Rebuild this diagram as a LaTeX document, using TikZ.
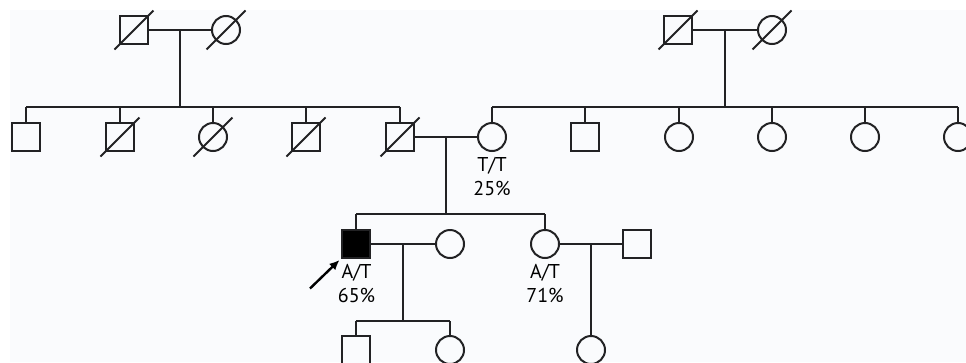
\documentclass[tikz,border=0pt]{standalone}
\usepackage{fontspec}
\setmainfont{PT Sans}
\usetikzlibrary{calc,arrows.meta}
\definecolor{ink}{RGB}{34,34,36}
\definecolor{paper}{RGB}{250,251,253}
\tikzset{
  x=1pt, y=-1pt,
  rel/.style={draw=ink, line width=2pt},
  male/.style={rectangle, draw=ink, line width=2pt, minimum size=28pt, inner sep=0pt, fill=paper},
  female/.style={circle, draw=ink, line width=2pt, minimum size=28pt, inner sep=0pt, fill=paper},
  affected/.style={fill=black},
  geno/.style={font=\fontsize{20}{22}\selectfont, text=black, anchor=base, inner sep=0pt},
}
% diagonal stroke marking a deceased individual
\newcommand{\deceased}[1]{\draw[rel] ($(#1)+(-19.5,19.5)$) -- ($(#1)+(19.5,-19.5)$);}
\begin{document}
\begin{tikzpicture}
\useasboundingbox (0,0) rectangle (966,362);
\clip (0,0) rectangle (966,362);
\fill[white] (0,0) rectangle (966,362);
\fill[paper] (10,10) rectangle (966,362);

% generation I
\node[male]   (gp1) at (134,30) {};
\node[female] (gm1) at (226,30) {};
\node[male]   (gp2) at (678,30) {};
\node[female] (gm2) at (772,30) {};

% generation II
\node[male]   (a1) at (26,137) {};
\node[male]   (a2) at (120,137) {};
\node[female] (a3) at (213,137) {};
\node[male]   (a4) at (306,137) {};
\node[male]   (a5) at (400,137) {};
\node[female] (b1) at (492,137) {};
\node[male]   (b2) at (585,137) {};
\node[female] (b3) at (679,137) {};
\node[female] (b4) at (772,137) {};
\node[female] (b5) at (865,137) {};
\node[female] (b6) at (958,137) {};

% generation III
\node[male, affected] (p)  at (356,244) {};
\node[female]         (w1) at (450,244) {};
\node[female]         (s)  at (545,244) {};
\node[male]           (h)  at (637,244) {};

% generation IV
\node[male]   (c1) at (356,350) {};
\node[female] (c2) at (450,350) {};
\node[female] (c3) at (591,350) {};

% sibship line levels
\coordinate (sibA) at (0,107);
\coordinate (sibB) at (0,107);
\coordinate (sibC) at (0,214);
\coordinate (sibD) at (0,321);

% left family
\draw[rel] (gp1) -- (gm1);
\coordinate (m1) at ($(gp1.east)!0.5!(gm1.west)$);
\draw[rel] (m1) -- (m1 |- sibA);
\draw[rel] (a1.north |- sibA) -- (a5.north |- sibA);
\foreach \k in {a1,a2,a3,a4,a5} {\draw[rel] (\k.north) -- (\k.north |- sibA);}

% right family
\draw[rel] (gp2) -- (gm2);
\coordinate (m2) at ($(gp2.east)!0.5!(gm2.west)$);
\draw[rel] (m2) -- (m2 |- sibB);
\draw[rel] (b1.north |- sibB) -- (b6.north |- sibB);
\foreach \k in {b1,b2,b3,b4,b5,b6} {\draw[rel] (\k.north) -- (\k.north |- sibB);}

% parents of the proband
\draw[rel] (a5) -- (b1);
\coordinate (m3) at ($(a5.east)!0.5!(b1.west)$);
\draw[rel] (m3) -- (m3 |- sibC);
\draw[rel] (p.north |- sibC) -- (s.north |- sibC);
\foreach \k in {p,s} {\draw[rel] (\k.north) -- (\k.north |- sibC);}

% proband and partner
\draw[rel] (p) -- (w1);
\coordinate (m4) at ($(p.east)!0.5!(w1.west)$);
\draw[rel] (m4) -- (m4 |- sibD);
\draw[rel] (c1.north |- sibD) -- (c2.north |- sibD);
\foreach \k in {c1,c2} {\draw[rel] (\k.north) -- (\k.north |- sibD);}

% sister and partner
\draw[rel] (s) -- (h);
\coordinate (m5) at ($(s.east)!0.5!(h.west)$);
\draw[rel] (m5) -- (c3.north);

% deceased markers
\foreach \k in {gp1,gm1,gp2,gm2,a2,a3,a4,a5} {\deceased{\k}}

% genotype labels
\node[geno] (tb1a) at (492,171.5) {T/T};
\node[geno] (tb1b) at (492,195.5) {25\%};
\node[geno] (tpa)  at (356.5,278.5) {A/T};
\node[geno] (tpb)  at (356.5,302.5) {65\%};
\node[geno] (tsa)  at (545,278.5) {A/T};
\node[geno] (tsb)  at (545,302.5) {71\%};

% proband arrow
\coordinate (arrtail) at (310,288.5);
\coordinate (arrtip) at (339.5,260);
\draw[draw=black, line width=2.4pt, -{Latex[length=10pt,width=9pt]}] (arrtail) -- (arrtip);
\end{tikzpicture}
\end{document}
